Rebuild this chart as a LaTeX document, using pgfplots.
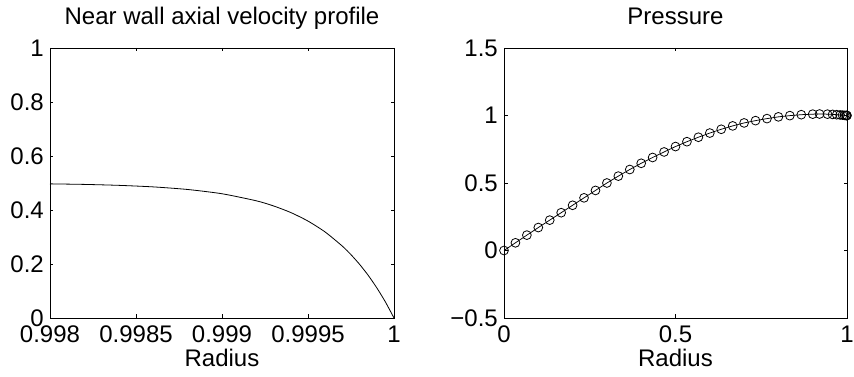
\documentclass[border=0pt]{standalone}
\usepackage{pgfplots}
\pgfplotsset{compat=1.18}
\usepackage{fontspec}
\setmainfont{Liberation Sans}

\newcommand\panelfont{\fontsize{24bp}{28bp}\selectfont}

\begin{document}
\begin{tikzpicture}
\pgfplotsset{
  panel/.style={
    scale only axis,
    height=270bp,
    axis line style={line width=0.9bp, black},
    every tick/.style={line width=0.7bp, black},
    tick align=inside,
    major tick length=3.5bp,
    clip=false,
    font=\panelfont,
    /pgf/number format/assume math mode=true,
    xticklabel style={anchor=base, yshift=-25bp, inner sep=0pt, font=\panelfont},
    yticklabel style={anchor=east, xshift=-6bp, inner sep=0pt, font=\panelfont},
    title style={at={(axis description cs:0.5,1)}, anchor=base,
      yshift=18bp, inner sep=0pt},
    xlabel style={at={(axis description cs:0.5,0)}, anchor=base,
      yshift=-48bp, inner sep=0pt},
  }
}
\path[use as bounding box] (0,0) rectangle (854bp,377bp);

% Left panel: axial velocity close to the wall
\begin{axis}[panel,
  at={(50bp,59bp)}, anchor=south west, width=344bp,
  title={Near wall axial velocity profile},
  xlabel={Radius},
  xmin=0.998, xmax=1, ymin=0, ymax=1,
  xtick={0.998,0.9985,0.999,0.9995,1},
  xticklabels={0.998,0.9985,0.999,0.9995,1},
  ytick={0,0.2,0.4,0.6,0.8,1},
  yticklabels={0,0.2,0.4,0.6,0.8,1},
]
\addplot[black, line width=0.8bp, smooth, tension=0.4] coordinates {
  (0.998,   0.4968)
  (0.9982,  0.4948)
  (0.9984,  0.4913)
  (0.9986,  0.4856)
  (0.9988,  0.4760)
  (0.9990,  0.4602)
  (0.9992,  0.4340)
  (0.9993,  0.4150)
  (0.9994,  0.3906)
  (0.9995,  0.3590)
  (0.9996,  0.3184)
  (0.9997,  0.2660)
  (0.99975, 0.2345)
  (0.9998,  0.1987)
  (0.99985, 0.1580)
  (0.9999,  0.1118)
  (0.99995, 0.0595)
  (1.0,     0.0)
};
\end{axis}

% Right panel: pressure across the radius
\begin{axis}[panel,
  at={(504bp,59bp)}, anchor=south west, width=343bp,
  title={Pressure},
  xlabel={Radius},
  xmin=0, xmax=1, ymin=-0.5, ymax=1.5,
  xtick={0,0.5,1}, xticklabels={0,0.5,1},
  ytick={-0.5,0,0.5,1,1.5},
  yticklabels={−0.5,0,0.5,1,1.5},
]
\addplot[black, line width=0.75bp, mark=o,
  mark size=4.4bp, mark options={line width=0.8bp}] coordinates {
  (0,      0)
  (0.0333, 0.057)
  (0.0667, 0.114)
  (0.1,    0.170)
  (0.1333, 0.225)
  (0.1667, 0.280)
  (0.2,    0.335)
  (0.2333, 0.390)
  (0.2667, 0.445)
  (0.3,    0.500)
  (0.3333, 0.551)
  (0.3667, 0.600)
  (0.4,    0.646)
  (0.4333, 0.689)
  (0.4667, 0.730)
  (0.5,    0.770)
  (0.5333, 0.806)
  (0.5667, 0.839)
  (0.6,    0.870)
  (0.6333, 0.898)
  (0.6667, 0.923)
  (0.7,    0.945)
  (0.7333, 0.962)
  (0.7667, 0.977)
  (0.8,    0.990)
  (0.8333, 0.999)
  (0.8667, 1.006)
  (0.9,    1.010)
  (0.92,   1.011)
  (0.943,  1.010)
  (0.958,  1.008)
  (0.970,  1.006)
  (0.98,   1.004)
  (0.987,  1.003)
  (0.993,  1.001)
  (0.997,  1.000)
  (0.999,  1.000)
  (1.0,    1.000)
};
\end{axis}
\end{tikzpicture}
\end{document}
